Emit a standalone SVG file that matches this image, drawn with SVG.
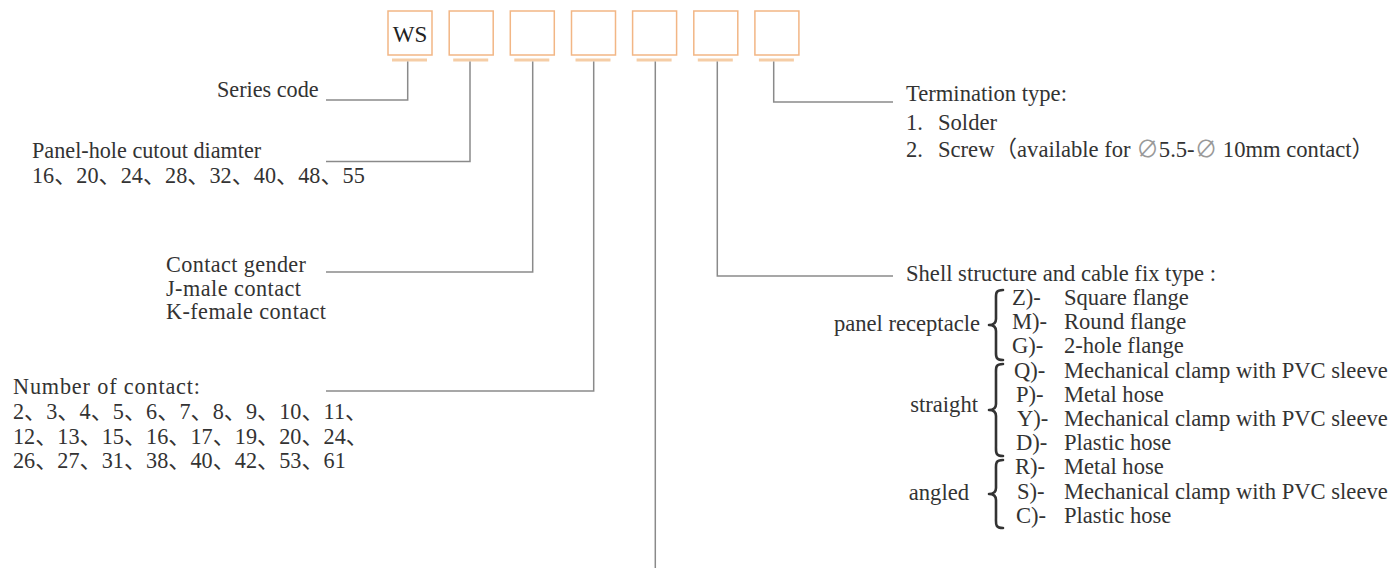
<svg xmlns="http://www.w3.org/2000/svg" width="1396" height="568" viewBox="0 0 1396 568">
<style>
.t{font-family:"Liberation Serif","Noto Sans CJK SC",serif;font-size:22.2px;fill:#333}
.r{font-size:22.6px}
.box{fill:#fff;stroke:#F2B685;stroke-width:1.5}
.ul{stroke:#F5CDA6;stroke-width:3}
.ln{fill:none;stroke:#8a8a8a;stroke-width:1.5}
.br{fill:none;stroke:#333;stroke-width:2.6;stroke-linecap:round;stroke-linejoin:round}
.g{fill:#999}
</style>
<rect width="1396" height="568" fill="#fff"/>
<g id="boxes">
<g id="box1"><rect class="box" x="388" y="11" width="44" height="44"/><line class="ul" x1="392" y1="60" x2="427" y2="60"/><text class="t" x="410" y="41.5" text-anchor="middle" style="font-size:23px;fill:#222">WS</text></g>
<g id="box2"><rect class="box" x="449.2" y="11" width="44" height="44"/><line class="ul" x1="453.2" y1="60" x2="488.2" y2="60"/></g>
<g id="box3"><rect class="box" x="510.3" y="11" width="44" height="44"/><line class="ul" x1="514.3" y1="60" x2="549.3" y2="60"/></g>
<g id="box4"><rect class="box" x="571.5" y="11" width="44" height="44"/><line class="ul" x1="575.5" y1="60" x2="610.5" y2="60"/></g>
<g id="box5"><rect class="box" x="632.6" y="11" width="44" height="44"/><line class="ul" x1="636.6" y1="60" x2="671.6" y2="60"/></g>
<g id="box6"><rect class="box" x="693.8" y="11" width="44" height="44"/><line class="ul" x1="697.8" y1="60" x2="732.8" y2="60"/></g>
<g id="box7"><rect class="box" x="754.9" y="11" width="44" height="44"/><line class="ul" x1="758.9" y1="60" x2="793.9" y2="60"/></g>
</g>
<g id="connectors">
<path class="ln" d="M407.7,61.5 V100 H326"/>
<path class="ln" d="M470,61.5 V161.5 H326"/>
<path class="ln" d="M532.7,61.5 V272 H326"/>
<path class="ln" d="M593.7,61.5 V391 H326"/>
<path class="ln" d="M655.3,61.5 V568"/>
<path class="ln" d="M717.3,61.5 V276 H893"/>
<path class="ln" d="M773.7,61.5 V102 H893"/>
</g>
<g id="series">
<text class="t" x="217" y="97">Series code</text>
</g>
<g id="panelhole">
<text class="t" x="32" y="158">Panel-hole cutout diamter</text>
<text class="t" x="32" y="183">16、20、24、28、32、40、48、55</text>
</g>
<g id="gender">
<text class="t" x="166" y="272" textLength="140" lengthAdjust="spacing">Contact gender</text>
<text class="t" x="166" y="295.5" textLength="135" lengthAdjust="spacing">J-male contact</text>
<text class="t" x="166" y="319" textLength="160" lengthAdjust="spacing">K-female contact</text>
</g>
<g id="number">
<text class="t" x="13" y="394" textLength="187" lengthAdjust="spacing">Number of contact:</text>
<text class="t" x="13" y="419">2、3、4、5、6、7、8、9、10、11、</text>
<text class="t" x="13" y="443.5">12、13、15、16、17、19、20、24、</text>
<text class="t" x="13" y="468">26、27、31、38、40、42、53、61</text>
</g>
<g id="termination">
<text class="t r" x="906" y="101">Termination type:</text>
<text class="t r" x="906" y="130">1.</text><text class="t r" x="938" y="130">Solder</text>
<text class="t r" x="906" y="157">2.</text><text class="t r" x="938" y="157">Screw（available for <tspan class="g">∅</tspan>5.5-<tspan class="g">∅</tspan> 10mm contact）</text>
</g>
<g id="shell">
<text class="t r" x="906" y="281">Shell structure and cable fix type :</text>
<text class="t r" x="980" y="331" text-anchor="end">panel receptacle</text>
<path class="br" d="M1003,290 C995,290 996,294 996,300 L996,319 C996,323 994,325 989,325 C994,325 996,327 996,331 L996,350 C996,356 995,360 1003,360"/>
<text class="t r" x="1012" y="305">Z)-</text><text class="t r" x="1064" y="305">Square flange</text>
<text class="t r" x="1012" y="329">M)-</text><text class="t r" x="1064" y="329">Round flange</text>
<text class="t r" x="1012" y="353">G)-</text><text class="t r" x="1064" y="353">2-hole flange</text>
<text class="t r" x="978" y="412" text-anchor="end">straight</text>
<path class="br" d="M1003,364 C995,364 996,368 996,374 L996,404 C996,408 994,410 989,410 C994,410 996,412 996,416 L996,446 C996,452 995,456 1003,456"/>
<text class="t r" x="1014" y="378">Q)-</text><text class="t r" x="1064" y="378">Mechanical clamp with PVC sleeve</text>
<text class="t r" x="1016" y="402">P)-</text><text class="t r" x="1064" y="402">Metal hose</text>
<text class="t r" x="1017" y="426">Y)-</text><text class="t r" x="1064" y="426">Mechanical clamp with PVC sleeve</text>
<text class="t r" x="1016" y="450">D)-</text><text class="t r" x="1064" y="450">Plastic hose</text>
<text class="t r" x="969" y="500" text-anchor="end">angled</text>
<path class="br" d="M1003,460 C995,460 996,464 996,470 L996,488 C996,492 994,494 989,494 C994,494 996,496 996,500 L996,518 C996,524 995,528 1003,528"/>
<text class="t r" x="1015" y="474">R)-</text><text class="t r" x="1064" y="474">Metal hose</text>
<text class="t r" x="1017" y="499">S)-</text><text class="t r" x="1064" y="499">Mechanical clamp with PVC sleeve</text>
<text class="t r" x="1016" y="523">C)-</text><text class="t r" x="1064" y="523">Plastic hose</text>
</g>
</svg>
